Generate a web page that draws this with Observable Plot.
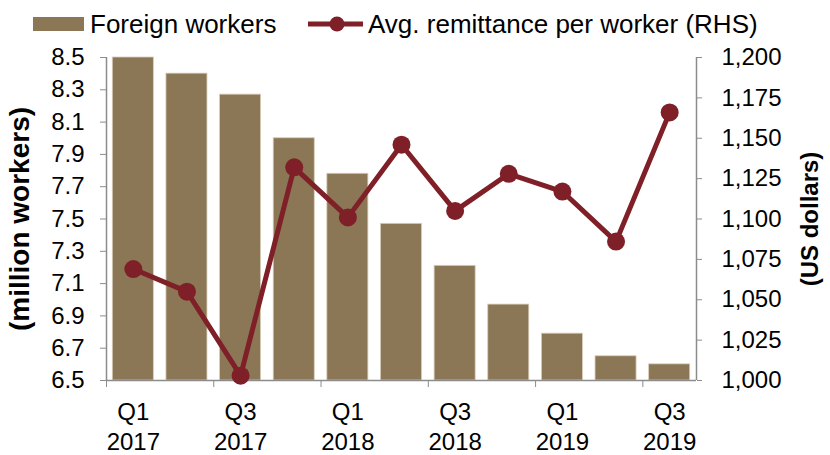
<!DOCTYPE html>
<html>
<head>
<meta charset="utf-8">
<script src="https://cdn.jsdelivr.net/npm/d3@7"></script>
<script src="https://cdn.jsdelivr.net/npm/@observablehq/plot@0.6"></script>
<style>
  html, body { margin: 0; padding: 0; background: white; }
  #wrap { position: relative; width: 830px; height: 455px; font-family: "Liberation Sans", Arial, sans-serif; }
  #legend { position: relative; height: 40px; font-size: 26px; color: #000; }
  .item { position: absolute; top: 9px; display: flex; align-items: center; white-space: nowrap; }
  .item span.t { margin-left: 6px; line-height: 30px; }
</style>
</head>
<body>
<div id="wrap">
  <div id="legend">
    <div class="item" style="left:33px">
      <span style="display:inline-block;width:51px;height:14px;background:#8B7755"></span>
      <span class="t">Foreign workers</span>
    </div>
    <div class="item" style="left:308px">
      <svg width="55" height="20"><line x1="0" y1="10" x2="55" y2="10" stroke="#7F1F27" stroke-width="5"/><circle cx="29" cy="10" r="7.5" fill="#7F1F27"/></svg>
      <span class="t" style="margin-left:5px">Avg. remittance per worker (RHS)</span>
    </div>
  </div>
  <div id="chart"></div>
</div>
<script>
// ---- data ----
const quarters = ["Q1 2017","Q2 2017","Q3 2017","Q4 2017","Q1 2018","Q2 2018","Q3 2018","Q4 2018","Q1 2019","Q2 2019","Q3 2019"];
const workers = [8.50, 8.40, 8.27, 8.00, 7.78, 7.47, 7.21, 6.97, 6.79, 6.65, 6.60];   // million workers (LHS)
const remittance = [1069, 1055, 1003, 1132, 1101, 1146, 1105, 1128, 1117, 1086, 1166]; // US dollars (RHS)
const leftTicks = [6.5, 6.7, 6.9, 7.1, 7.3, 7.5, 7.7, 7.9, 8.1, 8.3, 8.5];
const rightTicks = [1000, 1025, 1050, 1075, 1100, 1125, 1150, 1175, 1200];
const leftDomain = [6.5, 8.5];
const rightDomain = [1000, 1200];

// map right-axis values onto the left scale
const toL = v => leftDomain[0] + (v - rightDomain[0]) * (leftDomain[1] - leftDomain[0]) / (rightDomain[1] - rightDomain[0]);
const fromL = y => rightDomain[0] + (y - leftDomain[0]) * (rightDomain[1] - rightDomain[0]) / (leftDomain[1] - leftDomain[0]);

const data = quarters.map((q, i) => ({q, i, workers: workers[i], remit: remittance[i]}));
const labelPos = quarters.map((q, i) => i).filter(i => i % 2 === 0).map(i => i + 0.5);
const tickPos = quarters.map((q, i) => i).filter(i => i % 2 === 0);

const gray = "#8c8c8c";
const barColor = "#8B7755";
const lineColor = "#7F1F27";

const chart = Plot.plot({
  width: 830,
  height: 415,
  marginTop: 17,
  marginBottom: 75,
  marginLeft: 106,
  marginRight: 134,
  x: {domain: [0, quarters.length]},
  y: {domain: leftDomain},
  style: {fontFamily: "'Liberation Sans', Arial, sans-serif", fontSize: "24px", color: "black", background: "white", overflow: "visible"},
  marks: [
    Plot.rect(data, {x1: d => d.i, x2: d => d.i + 1, y1: leftDomain[0], y2: "workers", insetLeft: 6.3, insetRight: 6.3, fill: barColor, stroke: "#d8cdb8", strokeWidth: 0.8}),
    Plot.ruleY([leftDomain[0]], {stroke: gray, strokeWidth: 1.5}),
    Plot.ruleX([0, quarters.length], {stroke: gray, strokeWidth: 1.5}),
    Plot.axisY(leftTicks, {anchor: "left", tickSize: 6, tickPadding: 16, tickFormat: d3.format(".1f"), label: null, stroke: gray, fill: "black"}),
    Plot.axisY(rightTicks.map(toL), {anchor: "right", tickSize: 5, tickPadding: 20, tickFormat: d => d3.format(",")(Math.round(fromL(d))), label: null, stroke: gray, fill: "black"}),
    Plot.axisX(tickPos, {anchor: "bottom", tickSize: 7, tickFormat: () => "", label: null, stroke: gray}),
    Plot.axisX(labelPos, {anchor: "bottom", tickSize: 0, tickPadding: 18, tickFormat: p => quarters[p - 0.5].replace(" ", "\n"), label: null, lineHeight: 1.25, fill: "black"}),
    Plot.line(data, {x: d => d.i + 0.5, y: d => toL(d.remit), stroke: lineColor, strokeWidth: 5}),
    Plot.dot(data, {x: d => d.i + 0.5, y: d => toL(d.remit), r: 9, fill: lineColor}),
    Plot.text(["(million workers)"], {frameAnchor: "left", textAnchor: "middle", rotate: -90, dx: -86, fontWeight: "bold", fontSize: 28, fill: "black"}),
    Plot.text(["(US dollars)"], {frameAnchor: "right", textAnchor: "middle", rotate: -90, dx: 114, fontWeight: "bold", fontSize: 24, fill: "black"})
  ]
});
document.getElementById("chart").appendChild(chart);
</script>
</body>
</html>
